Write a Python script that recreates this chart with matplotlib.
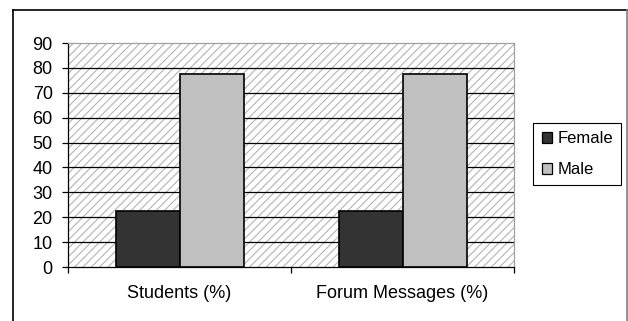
import matplotlib
matplotlib.use("Agg")
import matplotlib.pyplot as plt
from matplotlib.patches import Rectangle, Patch
from matplotlib.lines import Line2D
import numpy as np

plt.rcParams['font.family'] = ['Liberation Sans', 'DejaVu Sans']
plt.rcParams['hatch.linewidth'] = 0.8

categories = ['Students (%)', 'Forum Messages (%)']
female = [22.6, 22.6]
male = [77.4, 77.4]

fig = plt.figure(figsize=(6.28, 3.21), dpi=100)
ax = fig.add_axes([0.1083, 0.1682, 0.7102, 0.6978])

# hatched plot area
ax.add_patch(Rectangle((0, 0), 1, 1, transform=ax.transAxes, facecolor='white',
                       edgecolor='#b4b4b4', hatch='////', linewidth=0, zorder=0))

x = np.arange(len(categories))
w = 0.287
ax.bar(x - w / 2, female, w, color='#333333', edgecolor='black', linewidth=1.2,
       zorder=3, label='Female')
ax.bar(x + w / 2, male, w, color='#c0c0c0', edgecolor='black', linewidth=1.2,
       zorder=3, label='Male')

ax.set_xlim(-0.5, 1.5)
ax.set_ylim(0, 90)
ax.set_yticks(range(0, 91, 10))
for v in range(10, 90, 10):
    ax.axhline(v, color='black', linewidth=0.9, zorder=2)

ax.set_xticks([-0.5, 0.5, 1.5])
ax.set_xticklabels([])
ax.set_xticks(x, minor=True)
ax.set_xticklabels(categories, minor=True)
ax.tick_params(axis='x', which='major', length=4, width=0.9, direction='out', color='black')
ax.tick_params(axis='x', which='minor', length=0, pad=13, labelsize=13)
ax.tick_params(axis='y', length=4, width=0.9, pad=7, labelsize=13)

ax.spines['left'].set_color('black')
ax.spines['bottom'].set_color('black')
ax.spines['top'].set_color('#a0a0a0')
ax.spines['right'].set_color('#a0a0a0')
for s in ax.spines.values():
    s.set_linewidth(0.9)

handles = [Patch(facecolor='#333333', edgecolor='black', linewidth=0.9),
           Patch(facecolor='#c0c0c0', edgecolor='black', linewidth=0.9)]
leg = fig.legend(handles, ['Female', 'Male'], loc='upper left',
                 bbox_to_anchor=(0.849, 0.617), bbox_transform=fig.transFigure,
                 borderaxespad=0, fancybox=False, edgecolor='black', framealpha=1,
                 fontsize=12, handlelength=0.6, handleheight=0.6, handletextpad=0.35,
                 borderpad=0.5, labelspacing=0.95)
leg.get_frame().set_linewidth(0.8)

# outer chart frame
fig.add_artist(Line2D([0.0207, 0.0207], [-0.01, 0.969], color='black', linewidth=1.2,
                      transform=fig.transFigure))
fig.add_artist(Line2D([0.0207, 0.9984], [0.969, 0.969], color='black', linewidth=1.2,
                      transform=fig.transFigure))
fig.add_artist(Line2D([0.9984, 0.9984], [-0.01, 0.969], color='#808080', linewidth=1.2,
                      transform=fig.transFigure))

fig.savefig('out.png', dpi=100)
